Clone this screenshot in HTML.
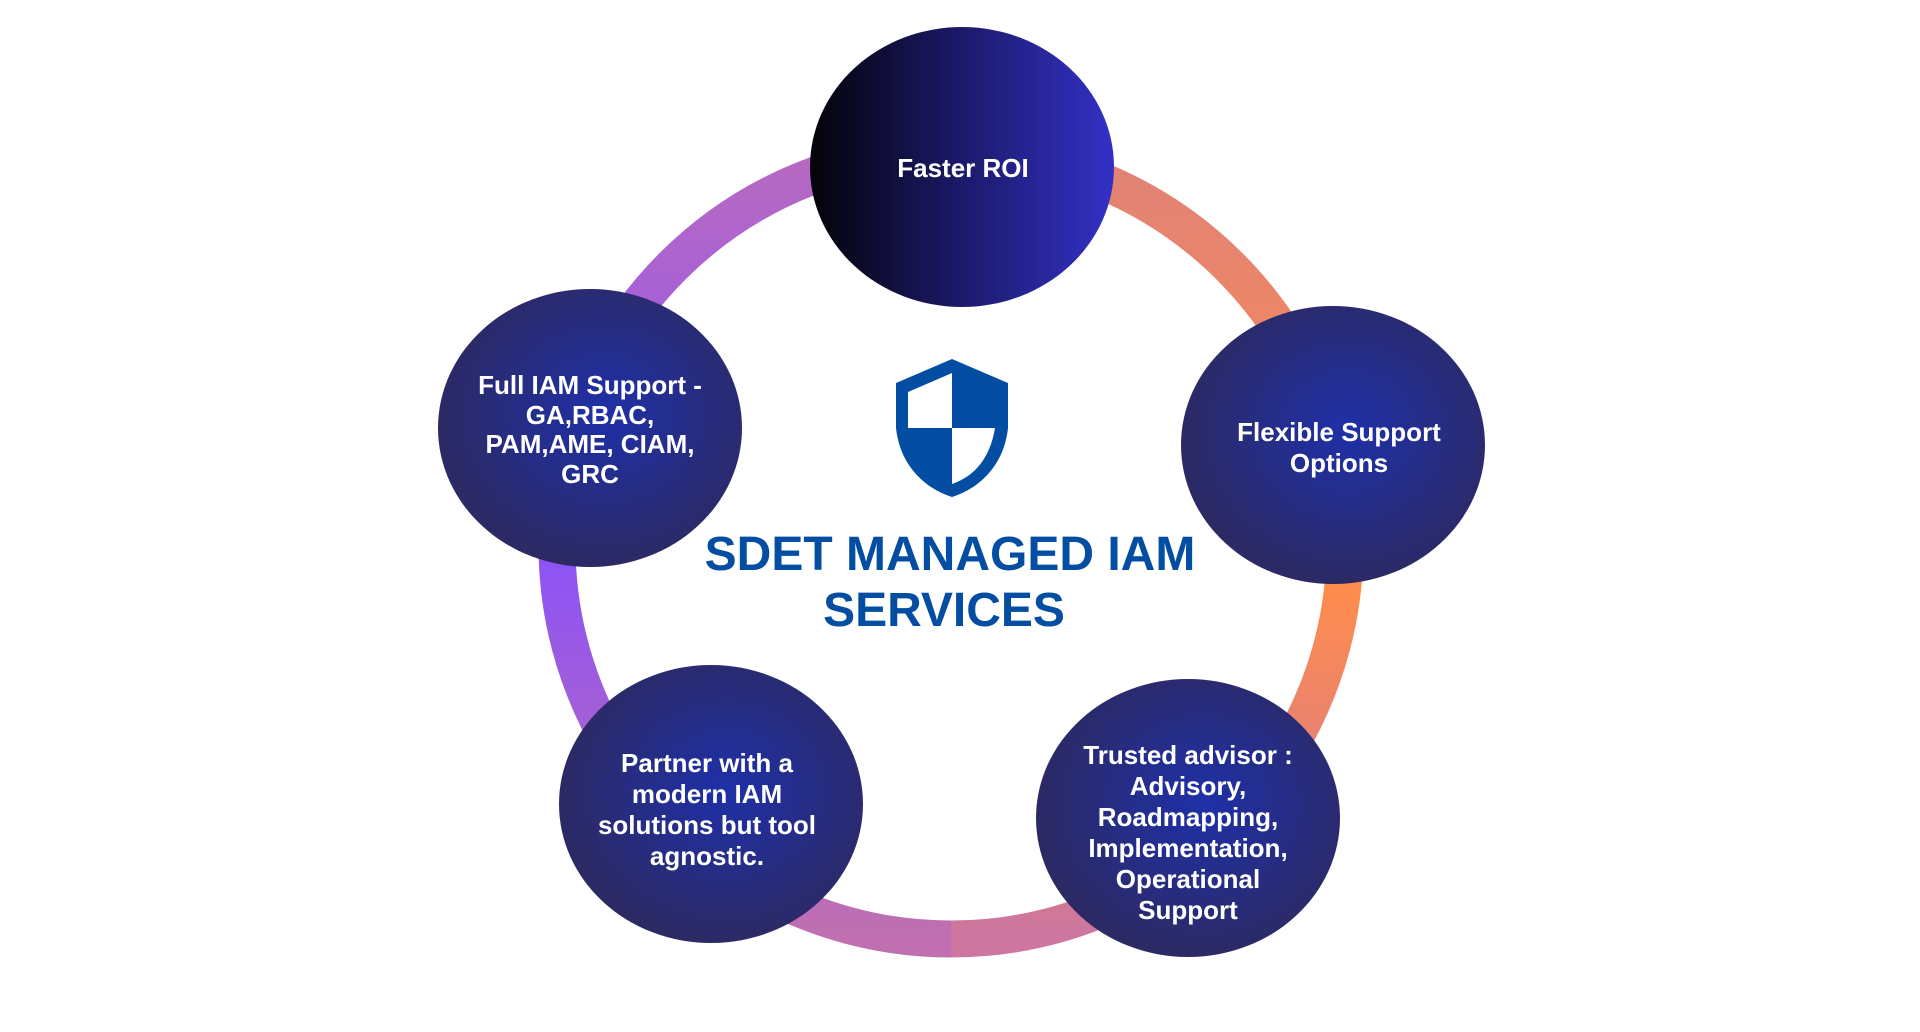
<!DOCTYPE html>
<html><head><meta charset="utf-8"><style>
html,body{margin:0;padding:0;background:#fff;width:1920px;height:1032px;overflow:hidden}
svg{display:block}
text{font-family:"Liberation Sans",sans-serif;font-weight:bold}
</style></head><body>
<svg width="1920" height="1032" viewBox="0 0 1920 1032" xmlns="http://www.w3.org/2000/svg">
<defs>
<linearGradient id="ringL" x1="0" y1="0" x2="0" y2="1">
<stop offset="0" stop-color="#b86ac0"/><stop offset="0.5" stop-color="#8c52f8"/><stop offset="1" stop-color="#c070b0"/>
</linearGradient>
<linearGradient id="ringR" x1="0" y1="0" x2="0" y2="1">
<stop offset="0" stop-color="#e08278"/><stop offset="0.55" stop-color="#ff8c4c"/><stop offset="1" stop-color="#cc76a0"/>
</linearGradient>
<linearGradient id="roi" x1="0" y1="0" x2="1" y2="0">
<stop offset="0" stop-color="#030308"/><stop offset="0.5" stop-color="#1c1a6a"/><stop offset="1" stop-color="#3331c6"/>
</linearGradient>
<radialGradient id="node" cx="0.55" cy="0.45" r="0.55">
<stop offset="0" stop-color="#1f30a8"/><stop offset="1" stop-color="#2c2a64"/>
</radialGradient>
<clipPath id="cl"><rect x="0" y="0" width="951" height="1032"/></clipPath>
<clipPath id="cr"><rect x="951" y="0" width="969" height="1032"/></clipPath>
</defs>
<circle cx="951" cy="545" r="394" fill="none" stroke="url(#ringL)" stroke-width="37" clip-path="url(#cl)"/>
<circle cx="951" cy="545" r="394" fill="none" stroke="url(#ringR)" stroke-width="37" clip-path="url(#cr)"/>

<ellipse cx="962" cy="167" rx="152" ry="140" fill="url(#roi)"/>
<ellipse cx="1333" cy="445" rx="152" ry="139" fill="url(#node)"/>
<ellipse cx="1188" cy="818" rx="152" ry="139" fill="url(#node)"/>
<ellipse cx="711" cy="804" rx="152" ry="139" fill="url(#node)"/>
<ellipse cx="590" cy="428" rx="152" ry="139" fill="url(#node)"/>

<g fill="#fff" font-size="26" text-anchor="middle">
<text x="963" y="177">Faster ROI</text>
<text x="1339" y="441">Flexible Support</text>
<text x="1339" y="472">Options</text>
<text x="590" y="394">Full IAM Support -</text>
<text x="590" y="424">GA,RBAC,</text>
<text x="590" y="453">PAM,AME, CIAM,</text>
<text x="590" y="483">GRC</text>
<text x="707" y="772">Partner with a</text>
<text x="707" y="803">modern IAM</text>
<text x="707" y="834">solutions but tool</text>
<text x="707" y="865">agnostic.</text>
<text x="1188" y="764">Trusted advisor :</text>
<text x="1188" y="795">Advisory,</text>
<text x="1188" y="826">Roadmapping,</text>
<text x="1188" y="857">Implementation,</text>
<text x="1188" y="888">Operational</text>
<text x="1188" y="919">Support</text>
</g>

<g fill="#034ea2">
<path d="M952 359 L1008 383 L1008 428 C1004 465 980 488 952 497 C924 488 900 465 896 428 L896 383 Z"/>
</g>
<g fill="#fff">
<path d="M908 392 L952 373 L952 428 L908 428 Z"/>
<path d="M952 428 L995 428 C990 458 975 476 952 484 Z"/>
</g>

<g fill="#034ea2" font-size="48" text-anchor="middle">
<text x="950" y="570">SDET MANAGED IAM</text>
<text x="944" y="626">SERVICES</text>
</g>
</svg>
</body></html>
